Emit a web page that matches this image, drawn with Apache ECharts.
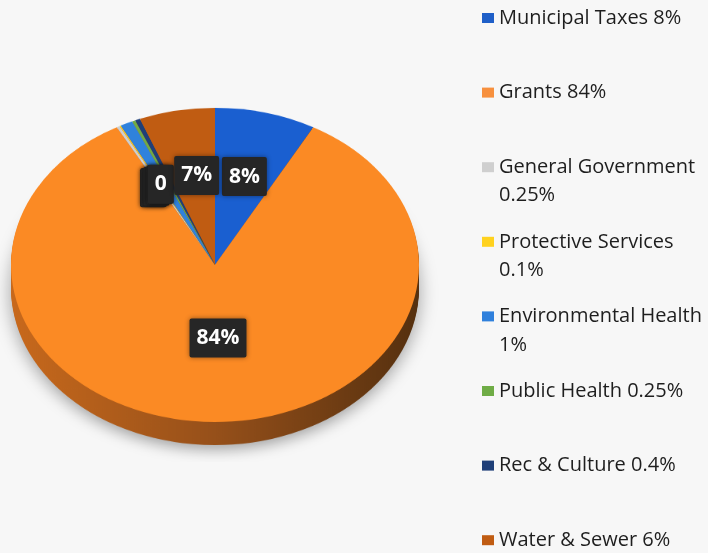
<!DOCTYPE html>
<html>
<head>
<meta charset="utf-8">
<script src="https://cdn.jsdelivr.net/npm/echarts@6/dist/echarts.min.js"></script>
<style>
  html, body { margin: 0; width: 708px; height: 553px; background: #f7f7f7; overflow: hidden; }
  /* the pie is drawn round, then squashed to look tilted */
  #pie { position: absolute; left: 0; top: 0; width: 440px; height: 600px; transform: scaleY(0.77); transform-origin: 0 0; }
  #main { position: absolute; left: 0; top: 0; width: 708px; height: 553px; }
</style>
</head>
<body>
<div id="pie"></div>
<div id="main"></div>
<script type="text/javascript">
var names = ['Municipal Taxes', 'Grants', 'General Government', 'Protective Services',
             'Environmental Health', 'Public Health', 'Rec & Culture', 'Water & Sewer'];
var values = [8, 84, 0.25, 0.1, 1, 0.25, 0.4, 6];
var legendText = ['Municipal Taxes 8%', 'Grants 84%', 'General Government\n0.25%', 'Protective Services\n0.1%',
                  'Environmental Health\n1%', 'Public Health 0.25%', 'Rec & Culture 0.4%', 'Water & Sewer 6%'];
var sliceLabels = ['8%', '84%', '0', '0', '0', '0', '0', '7%'];
var colors = ['#1a5fd0', '#fb8a24', '#cfcfcf', '#ffd21f', '#2f82dc', '#6fac46', '#1f3f78', '#c05c12'];
var legendColors = ['#1f5fc8', '#f7903e', '#cfcfcf', '#ffd21f', '#2f80dc', '#6fac46', '#1f3f78', '#c05c12'];

// ---- tilted pie (top face + side wall) ----
var pieChart = echarts.init(document.getElementById('pie'));
var wallColor = new echarts.graphic.LinearGradient(0, 0, 1, 0, [
    { offset: 0, color: '#c8691c' },
    { offset: 0.5, color: '#96501a' },
    { offset: 1, color: '#55300f' }
]);
var depth = 30, layers = 15;
var pieSeries = [];
for (var k = layers; k >= 1; k--) {
    pieSeries.push({
        type: 'pie',
        center: [215, 344 + k * depth / layers],
        radius: 204,
        silent: true,
        label: { show: false },
        labelLine: { show: false },
        itemStyle: k === layers
            ? { color: wallColor, shadowBlur: 18, shadowColor: 'rgba(0,0,0,0.35)', shadowOffsetY: 6 }
            : { color: wallColor },
        data: names.map(function (n, i) { return { name: n, value: values[i] }; })
    });
}
pieSeries.push({
    type: 'pie',
    center: [215, 344],
    radius: 204,
    silent: true,
    label: { show: false },
    labelLine: { show: false },
    data: names.map(function (n, i) {
        return { name: n, value: values[i], itemStyle: { color: colors[i] } };
    })
});
pieChart.setOption({ animation: false, series: pieSeries });

// ---- labels + legend on top ----
var myChart = echarts.init(document.getElementById('main'));
var lineH = 28.5;
var legends = names.map(function (n, i) {
    var lines = legendText[i].split('\n').length;
    var txt = lines > 1 ? ' \n' + legendText[i] : legendText[i];
    var h = (lines > 1 ? 3 : 1) * lineH;
    var c = 18 + i * 74.6;
    return {
        left: 482,
        top: c - h / 2,
        padding: 0,
        orient: 'vertical',
        selectedMode: false,
        icon: 'rect',
        itemWidth: 12,
        itemHeight: 10,
        formatter: function () { return txt; },
        textStyle: { fontFamily: 'Open Sans', fontSize: 20, color: '#1e1e1e', lineHeight: lineH },
        data: [{ name: n, itemStyle: { color: legendColors[i] } }]
    };
});

// small nudges so the crowded labels sit like the original
var labelNudge = { 0: [6, 0], 7: [-6, 0] };

var option = {
    animation: false,
    legend: legends,
    series: [{
        type: 'pie',
        center: [218, 256],
        radius: 158,
        silent: true,
        avoidLabelOverlap: false,
        labelLayout: { hideOverlap: false },
        itemStyle: { color: 'transparent' },
        labelLine: { show: false },
        label: {
            show: true,
            position: 'inside',
            formatter: function (p) { return sliceLabels[p.dataIndex]; },
            color: '#fff',
            fontFamily: 'Open Sans',
            fontWeight: 'bold',
            fontSize: 21,
            backgroundColor: '#262626',
            padding: [10, 7, 8, 7],
            borderRadius: 2,
            shadowBlur: 5,
            shadowColor: 'rgba(0,0,0,0.45)'
        },
        data: names.map(function (n, i) {
            var d = { name: n, value: values[i] };
            if (sliceLabels[i] === '0') d.label = { offset: [-26, 4] };
            else if (labelNudge[i]) d.label = { offset: labelNudge[i] };
            return d;
        })
    }]
};
myChart.setOption(option);
</script>
</body>
</html>
